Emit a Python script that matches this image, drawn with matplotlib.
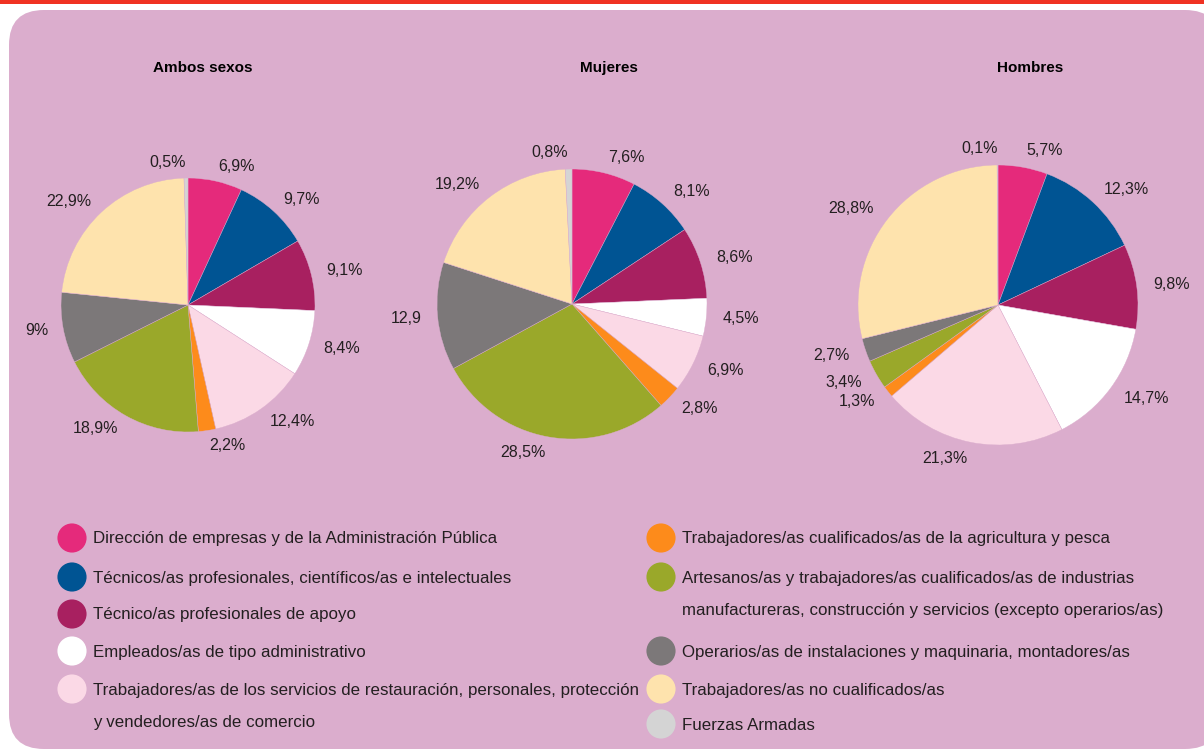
import matplotlib
matplotlib.use('Agg')
import matplotlib.pyplot as plt
from matplotlib.patches import FancyBboxPatch, Rectangle

plt.rcParams['font.family'] = ['Liberation Sans', 'DejaVu Sans']

# DATOS
categorias = [
    'Dirección de empresas y de la Administración Pública',
    'Técnicos/as profesionales, científicos/as e intelectuales',
    'Técnico/as profesionales de apoyo',
    'Empleados/as de tipo administrativo',
    'Trabajadores/as de los servicios de restauración, personales, protección\ny vendedores/as de comercio',
    'Trabajadores/as cualificados/as de la agricultura y pesca',
    'Artesanos/as y trabajadores/as cualificados/as de industrias\nmanufactureras, construcción y servicios (excepto operarios/as)',
    'Operarios/as de instalaciones y maquinaria, montadores/as',
    'Trabajadores/as no cualificados/as',
    'Fuerzas Armadas',
]
colores = ['#e52a7b', '#005493', '#a82060', '#ffffff', '#fbd9e6',
           '#fd8b1b', '#9aa82a', '#7c7879', '#fee3ad', '#d4d4d4']

titulos = ['Ambos sexos', 'Mujeres', 'Hombres']
ambos = [6.9, 9.7, 9.1, 8.4, 12.4, 2.2, 18.9, 9.0, 22.9, 0.5]
mujeres = [7.6, 8.1, 8.6, 4.5, 6.9, 2.8, 28.5, 12.9, 19.2, 0.8]
hombres = [5.7, 12.3, 9.8, 14.7, 21.3, 1.3, 3.4, 2.7, 28.8, 0.1]

et_ambos = ['6,9%', '9,7%', '9,1%', '8,4%', '12,4%', '2,2%', '18,9%', '9%', '22,9%', '0,5%']
et_mujeres = ['7,6%', '8,1%', '8,6%', '4,5%', '6,9%', '2,8%', '28,5%', '12,9', '19,2%', '0,8%']
et_hombres = ['5,7%', '12,3%', '9,8%', '14,7%', '21,3%', '1,3%', '3,4%', '2,7%', '28,8%', '0,1%']

W, H = 1204, 756
fig = plt.figure(figsize=(W/100, H/100), dpi=100)
fig.patch.set_facecolor('white')

# fondo: linea roja y caja redondeada
bg = fig.add_axes([0, 0, 1, 1])
bg.set_xlim(0, W)
bg.set_ylim(H, 0)
bg.axis('off')
bg.add_patch(Rectangle((0, 0), W, 3.5, color='#f03222', lw=0))
bg.add_patch(FancyBboxPatch((9, 10), 1211, 739, boxstyle='round,pad=0,rounding_size=35',
                            fc='#dbadcd', ec='none'))

# tartas: centro (px), radio (px), posicion titulo
pies = [
    (ambos, et_ambos, 188, 305, 127, 203),
    (mujeres, et_mujeres, 572, 304, 135, 609),
    (hombres, et_hombres, 998, 305, 140, 1030),
]
lim = 1.45
txt_col = '#231f20'
for (vals, ets, cx, cy, r, tx), tit in zip(pies, titulos):
    s = 2*lim*r
    ax = fig.add_axes([(cx - s/2)/W, (H - cy - s/2)/H, s/W, s/H])
    ax.pie(vals, labels=ets, colors=colores, startangle=90, counterclock=False,
           labeldistance=1.12, wedgeprops=dict(linewidth=0.3, edgecolor='#dbadcd'),
           textprops=dict(fontsize=11.5, color=txt_col))
    ax.set_xlim(-lim, lim)
    ax.set_ylim(-lim, lim)
    ax.set_aspect('equal')
    ax.axis('off')
    bg.text(tx, 68, tit, ha='center', va='center', fontsize=11, fontweight='bold', color='black')

# leyenda
izq = [(72, 538), (72, 577), (72, 614), (72, 651), (72, 689)]
der = [(661, 538), (661, 577), (661, 651), (661, 689), (661, 724)]
for i, (x, y) in enumerate(izq + der):
    bg.scatter([x], [y], s=440, color=colores[i], edgecolors='none')
    for k, linea in enumerate(categorias[i].split('\n')):
        bg.text(x + 21, y + 1 + k*32, linea, ha='left', va='center',
                fontsize=12.2, color=txt_col)

fig.savefig('out.png', dpi=100)
